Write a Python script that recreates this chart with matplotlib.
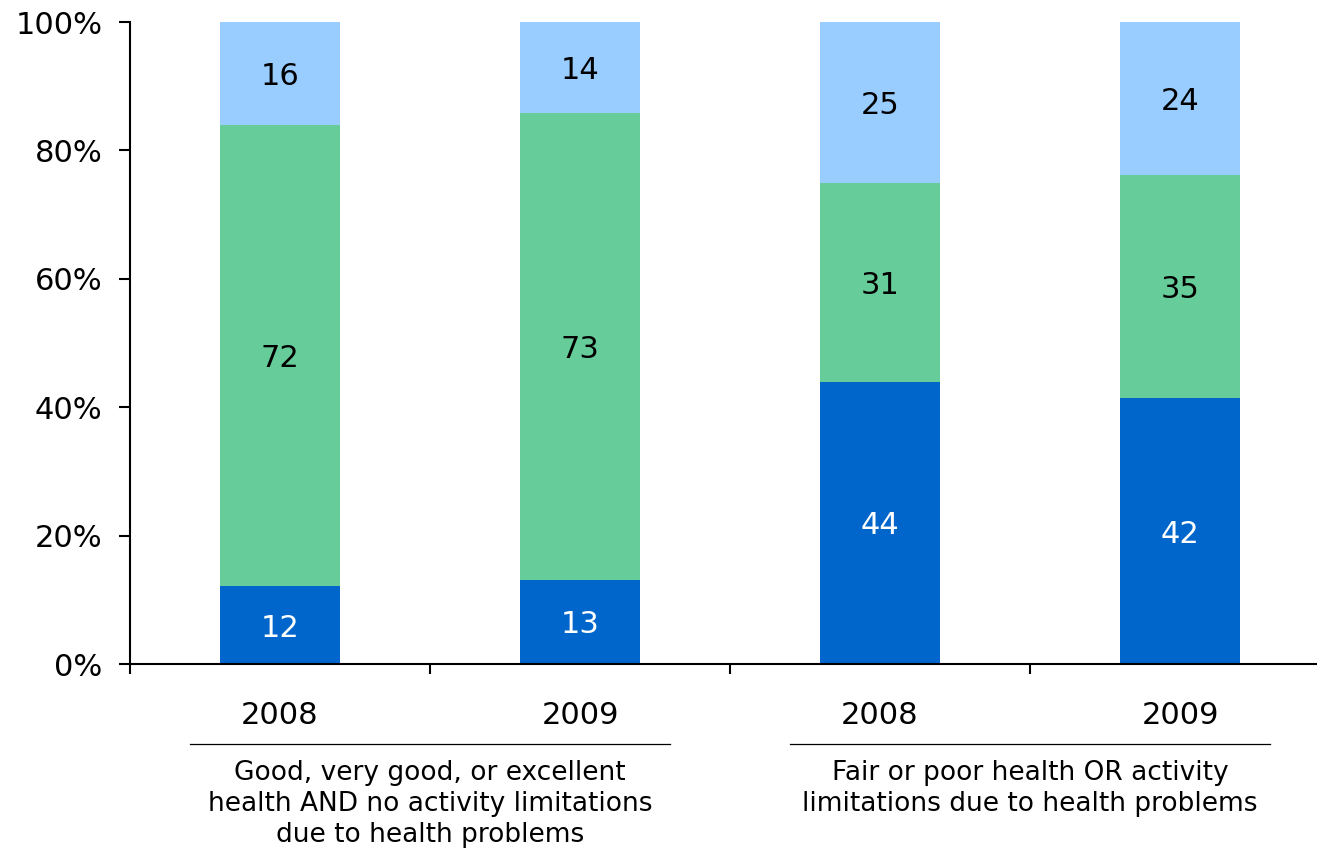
import matplotlib.pyplot as plt

# Data (percent of each bar)
years = ['2008', '2009', '2008', '2009']
dark = [12.1, 13.1, 44.0, 41.4]
green = [71.9, 72.7, 31.0, 34.8]
light = [16.0, 14.2, 25.0, 23.8]
dark_labels = ['12', '13', '44', '42']
green_labels = ['72', '73', '31', '35']
light_labels = ['16', '14', '25', '24']
groups = ['Good, very good, or excellent\nhealth AND no activity limitations\ndue to health problems',
          'Fair or poor health OR activity\nlimitations due to health problems']
y_ticks = [0, 20, 40, 60, 80, 100]

fig = plt.figure(figsize=(13.17, 8.48), dpi=100)
ax = fig.add_axes([130 / 1317, 184 / 848, 1200 / 1317, 642 / 848])

x = list(range(len(years)))
width = 0.4

bottom2 = dark
bottom3 = [d + g for d, g in zip(dark, green)]
ax.bar(x, dark, width, color='#0066CC')
ax.bar(x, green, width, bottom=bottom2, color='#66CC99')
ax.bar(x, light, width, bottom=bottom3, color='#99CCFF')

# segment labels, centred in each segment
for xi in x:
    ax.text(xi, dark[xi] / 2, dark_labels[xi], ha='center', va='center_baseline',
            color='white', fontsize=22)
    ax.text(xi, bottom2[xi] + green[xi] / 2, green_labels[xi], ha='center',
            va='center_baseline', color='black', fontsize=22)
    ax.text(xi, bottom3[xi] + light[xi] / 2, light_labels[xi], ha='center',
            va='center_baseline', color='black', fontsize=22)

ax.set_xlim(-0.5, 3.5)
ax.set_ylim(0, 100)

# y axis
ax.set_yticks(y_ticks)
ax.set_yticklabels([f'{t}%' for t in y_ticks], fontsize=22)
ax.tick_params(axis='y', length=8, width=1.5, pad=12)

# x axis: ticks at category boundaries, no labels
ax.set_xticks([-0.5, 0.5, 1.5, 2.5, 3.5])
ax.set_xticklabels([])
ax.tick_params(axis='x', length=7, width=1.5)

ax.spines['top'].set_visible(False)
ax.spines['right'].set_visible(False)
ax.spines['left'].set_linewidth(1.5)
ax.spines['bottom'].set_linewidth(1.5)

trans = ax.get_xaxis_transform()

# year labels
for xi, yr in zip(x, years):
    ax.text(xi, -0.08, yr, transform=trans, ha='center', va='center', fontsize=22)

# group lines and labels
for gi, label in enumerate(groups):
    c = 0.5 + 2 * gi
    ax.plot([c - 0.8, c + 0.8], [-0.1246, -0.1246], transform=trans,
            color='black', lw=0.9, clip_on=False)
    ax.text(c, -0.149, label, transform=trans, ha='center', va='top',
            fontsize=19, linespacing=1.25)

fig.savefig('out.png', dpi=100)
